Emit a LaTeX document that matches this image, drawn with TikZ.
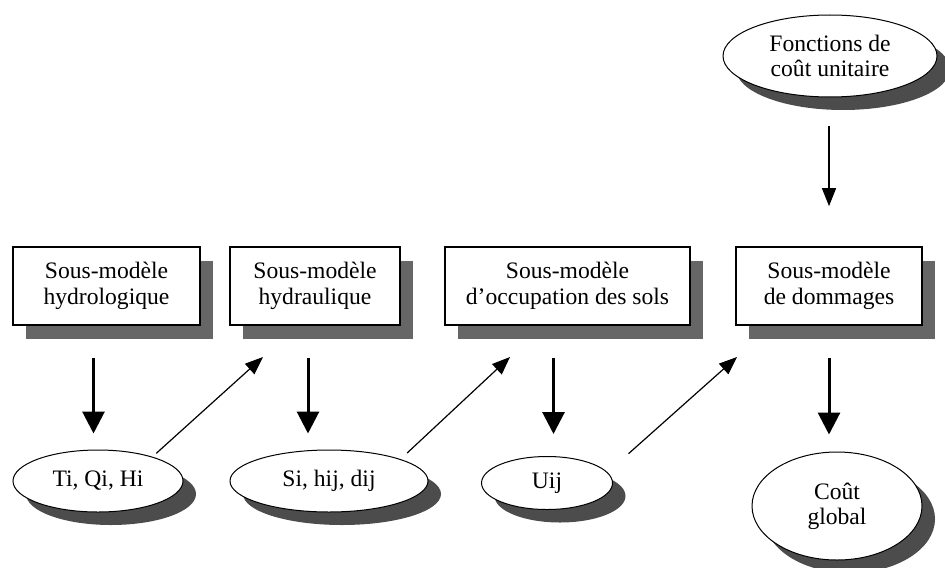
\documentclass[tikz,border=0pt]{standalone}
\usepackage{fontspec}
\setmainfont{Liberation Serif}
\usepackage{tikz}
\usetikzlibrary{positioning,calc,shapes.geometric,shadows,arrows.meta}
\tikzstyle{block} = [draw, rectangle, line width=0.8pt, fill=white, minimum height=39pt, align=center, font=\fontsize{11.8}{13}\selectfont, drop shadow={shadow xshift=6.5pt, shadow yshift=-7pt, fill=black!60, opacity=1}]
\tikzstyle{res} = [draw, ellipse, line width=0.5pt, fill=white, inner sep=0pt, align=center, font=\fontsize{11.8}{12.5}\selectfont, drop shadow={shadow xshift=6.5pt, shadow yshift=-6.5pt, fill=black!70, opacity=1}]
\tikzstyle{down} = [-{Triangle[length=11pt,width=11pt]}, line width=1.5pt]
\tikzstyle{to} = [-{Triangle[length=9pt,width=7pt]}, line width=0.6pt]

\begin{document}
\begin{tikzpicture}[x=0.5pt, y=-0.5pt]
		\useasboundingbox (0,0) rectangle (945,567);
		% sous-modeles
		\node (sm1) [block, minimum width=93.5pt] at (106.5,286) {Sous-modèle\\hydrologique};
		\node (sm2) [block, minimum width=85pt] at (315,286) {Sous-modèle\\hydraulique};
		\node (sm3) [block, minimum width=122.5pt] at (567.5,286) {Sous-modèle\\d’occupation des sols};
		\node (sm4) [block, minimum width=93pt] at (829,286) {Sous-modèle\\de dommages};
		% resultats
		\node (r1) [res, minimum width=85pt, minimum height=31pt] at (98,481) {Ti, Qi, Hi};
		\node (r2) [res, minimum width=99pt, minimum height=31pt] at (329,481) {Si, hij, dij};
		\node (r3) [res, minimum width=65.5pt, minimum height=26.5pt] at (547,483) {Uij};
		\node (r4) [res, minimum width=85pt, minimum height=54pt] at (837,506) {Coût\\global};
		\node (fc) [res, minimum width=107pt, minimum height=41pt] at (830,56) {Fonctions de\\coût unitaire};
		% pointes libres
		\coordinate (p2) at (263,357);
		\coordinate (p3) at (510,357);
		\coordinate (p4) at (737,357);
		\draw[down, shorten <=16pt, shorten >=8pt] ([xshift=-6.5pt]sm1.south) -- ([xshift=-6.5pt]sm1.south |- r1.north);
		\draw[down, shorten <=16pt, shorten >=8pt] ([xshift=-3.5pt]sm2.south) -- ([xshift=-3.5pt]sm2.south |- r2.north);
		\draw[down, shorten <=16pt, shorten >=11pt] ([xshift=-7pt]sm3.south) -- ([xshift=-7pt]sm3.south |- r3.north);
		\draw[down, shorten <=16pt, shorten >=8.5pt] (sm4.south) -- (sm4.south |- r4.north);
		\draw[to, shorten <=14pt, shorten >=20pt] (fc.south -| sm4.north) -- (sm4.north);
		\draw[to, shorten <=2.5pt] (r1.24) -- (p2);
		\draw[to, shorten <=4.5pt] (r2.17) -- (p3);
		\draw[to, shorten <=14pt] (r3.10) -- (p4);
\end{tikzpicture}
\end{document}
